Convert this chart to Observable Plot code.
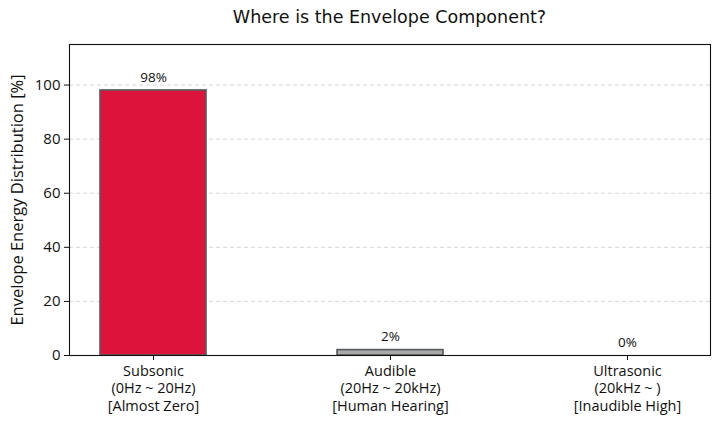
<!DOCTYPE html>
<html>
<head>
<meta charset="utf-8">
<script src="https://cdn.jsdelivr.net/npm/d3@7"></script>
<script src="https://cdn.jsdelivr.net/npm/@observablehq/plot@0.6"></script>
<style>
  body { margin: 0; background: #fff; font-family: "Open Sans", sans-serif; }
  #title { width: 720px; height: 36px; box-sizing: border-box; padding-left: 69px; padding-right: 10px;
           text-align: center; font-family: "DejaVu Sans", sans-serif; font-size: 17.5px; line-height: 35px; color: #111; }
</style>
</head>
<body>
<div id="title">Where is the Envelope Component?</div>
<div id="chart"></div>
<script>
const categories = [
  "Subsonic\n(0Hz ~ 20Hz)\n[Almost Zero]",
  "Audible\n(20Hz ~ 20kHz)\n[Human Hearing]",
  "Ultrasonic\n(20kHz ~ )\n[Inaudible High]"
];
const values = [98, 2, 0];
const barColors = ["#DC143C", "#A9A9A9", "#4682B4"];
const yTicks = [0, 20, 40, 60, 80, 100];
const yLabel = ["Envelope Energy Distribution [%]"];

const data = categories.map((c, i) => ({category: c, value: values[i], color: barColors[i]}));

const chart = Plot.plot({
  width: 720,
  height: 390,
  marginTop: 8,
  marginBottom: 71,
  marginLeft: 69,
  marginRight: 10,
  style: {fontFamily: "'Open Sans', sans-serif", fontSize: "15px", color: "#111"},
  x: {domain: categories, paddingInner: 0.553, paddingOuter: 0.126, label: null},
  y: {domain: [0, 115], ticks: yTicks, label: null},
  marks: [
    Plot.gridY(yTicks.filter(d => d > 0), {stroke: "#cccccc", strokeOpacity: 1, strokeDasharray: "4,3", strokeWidth: 0.8}),
    Plot.barY(data, {x: "category", y: "value", fill: "color", stroke: "#555b5e", strokeWidth: 1.6}),
    Plot.text(data, {x: "category", y: "value", text: d => `${d.value}%`, dy: -13, fontSize: 13.5, fill: "#111"}),
    Plot.frame({stroke: "#111", strokeWidth: 1.1}),
    Plot.axisY({ticks: yTicks, tickSize: 5, tickPadding: 4, fontSize: 15, label: null}),
    Plot.text(yLabel, {text: d => d, frameAnchor: "left", textAnchor: "middle", rotate: -90, dx: -52, fontSize: 16.5, fill: "#111"}),
    Plot.axisX({tickSize: 5, tickPadding: 3, fontSize: 14.5, lineHeight: 1.2, label: null})
  ]
});
document.getElementById("chart").appendChild(chart);
</script>
</body>
</html>
